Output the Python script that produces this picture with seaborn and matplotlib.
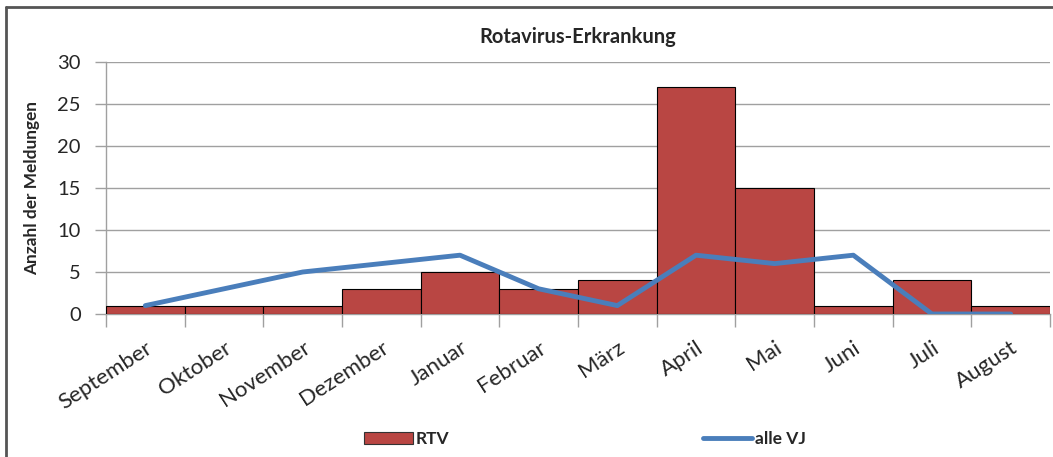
import matplotlib
matplotlib.use("Agg")
import matplotlib.pyplot as plt
import seaborn as sns
import numpy as np
from matplotlib.patches import Patch
from matplotlib.lines import Line2D

months = ["September", "Oktober", "November", "Dezember", "Januar", "Februar",
          "März", "April", "Mai", "Juni", "Juli", "August"]
rtv = [1, 1, 1, 3, 5, 3, 4, 27, 15, 1, 4, 1]
alle_vj = [1, 3, 5, 6, 7, 3, 1, 7, 6, 7, 0, 0]
yticks = [0, 5, 10, 15, 20, 25, 30]

sns.set_theme(style="white")
plt.rcParams['font.family'] = ['Lato', 'DejaVu Sans']

bar_color = "#B94643"
line_color = "#4A7EBB"
grid_color = "#A0A0A0"

fig = plt.figure(figsize=(10.53, 4.57), dpi=100)
ax = fig.add_axes([106/1053, 1-314/457, (1050-106)/1053, (314-62)/457])

sns.barplot(x=months, y=rtv, ax=ax, width=1.0, color=bar_color,
            edgecolor="black", linewidth=0.8, saturation=1, zorder=3)
sns.lineplot(x=np.arange(len(months)), y=alle_vj, ax=ax, color=line_color,
             linewidth=3.5, zorder=4)

ax.set_xlim(-0.5, len(months) - 0.5)
ax.set_ylim(0, 30)
ax.set_yticks(yticks)
ax.yaxis.grid(True, color=grid_color, linewidth=1)
ax.set_axisbelow(True)
for s in ["top", "right"]:
    ax.spines[s].set_visible(False)
for s in ["left", "bottom"]:
    ax.spines[s].set_color(grid_color)
    ax.spines[s].set_linewidth(1)

ax.set_xticks(np.arange(len(months)))
ax.set_xticklabels(months, rotation=33, ha="right", rotation_mode="anchor", fontsize=16)
ax.tick_params(axis="x", which="major", length=0, pad=17)
ax.set_xticks(np.arange(-0.5, len(months)), minor=True)
ax.tick_params(axis="x", which="minor", length=9, color=grid_color, width=1, direction="out", bottom=True)
ax.tick_params(axis="y", length=8, color=grid_color, width=1, direction="out", left=True, labelsize=14.5, pad=10)

ax.set_ylabel("Anzahl der Meldungen", fontsize=12.4, fontweight="bold")
ax.yaxis.set_label_coords((40 - 106) / 944, 0.5)
ax.set_xlabel("")
ax.set_title("Rotavirus-Erkrankung", fontsize=14.5, fontweight="bold", pad=14)

handles = [Patch(facecolor=bar_color, edgecolor="#333333", linewidth=0.8, label="RTV"),
           Line2D([0], [0], color=line_color, linewidth=3.5, label="alle VJ")]
fig.legend(handles=handles, loc="center", bbox_to_anchor=(0.5556, 0.04), ncol=2,
           frameon=False, prop={"weight": "bold", "size": 12.5}, handlelength=2.8,
           handletextpad=0.2, columnspacing=14.6)

# outer border
fig.add_artist(Line2D([6/1053, 6/1053], [0, 1-7/457], transform=fig.transFigure, color="#555555", linewidth=2))
fig.add_artist(Line2D([6/1053, 1], [1-7/457, 1-7/457], transform=fig.transFigure, color="#555555", linewidth=2))

fig.savefig("out.png", dpi=100)
